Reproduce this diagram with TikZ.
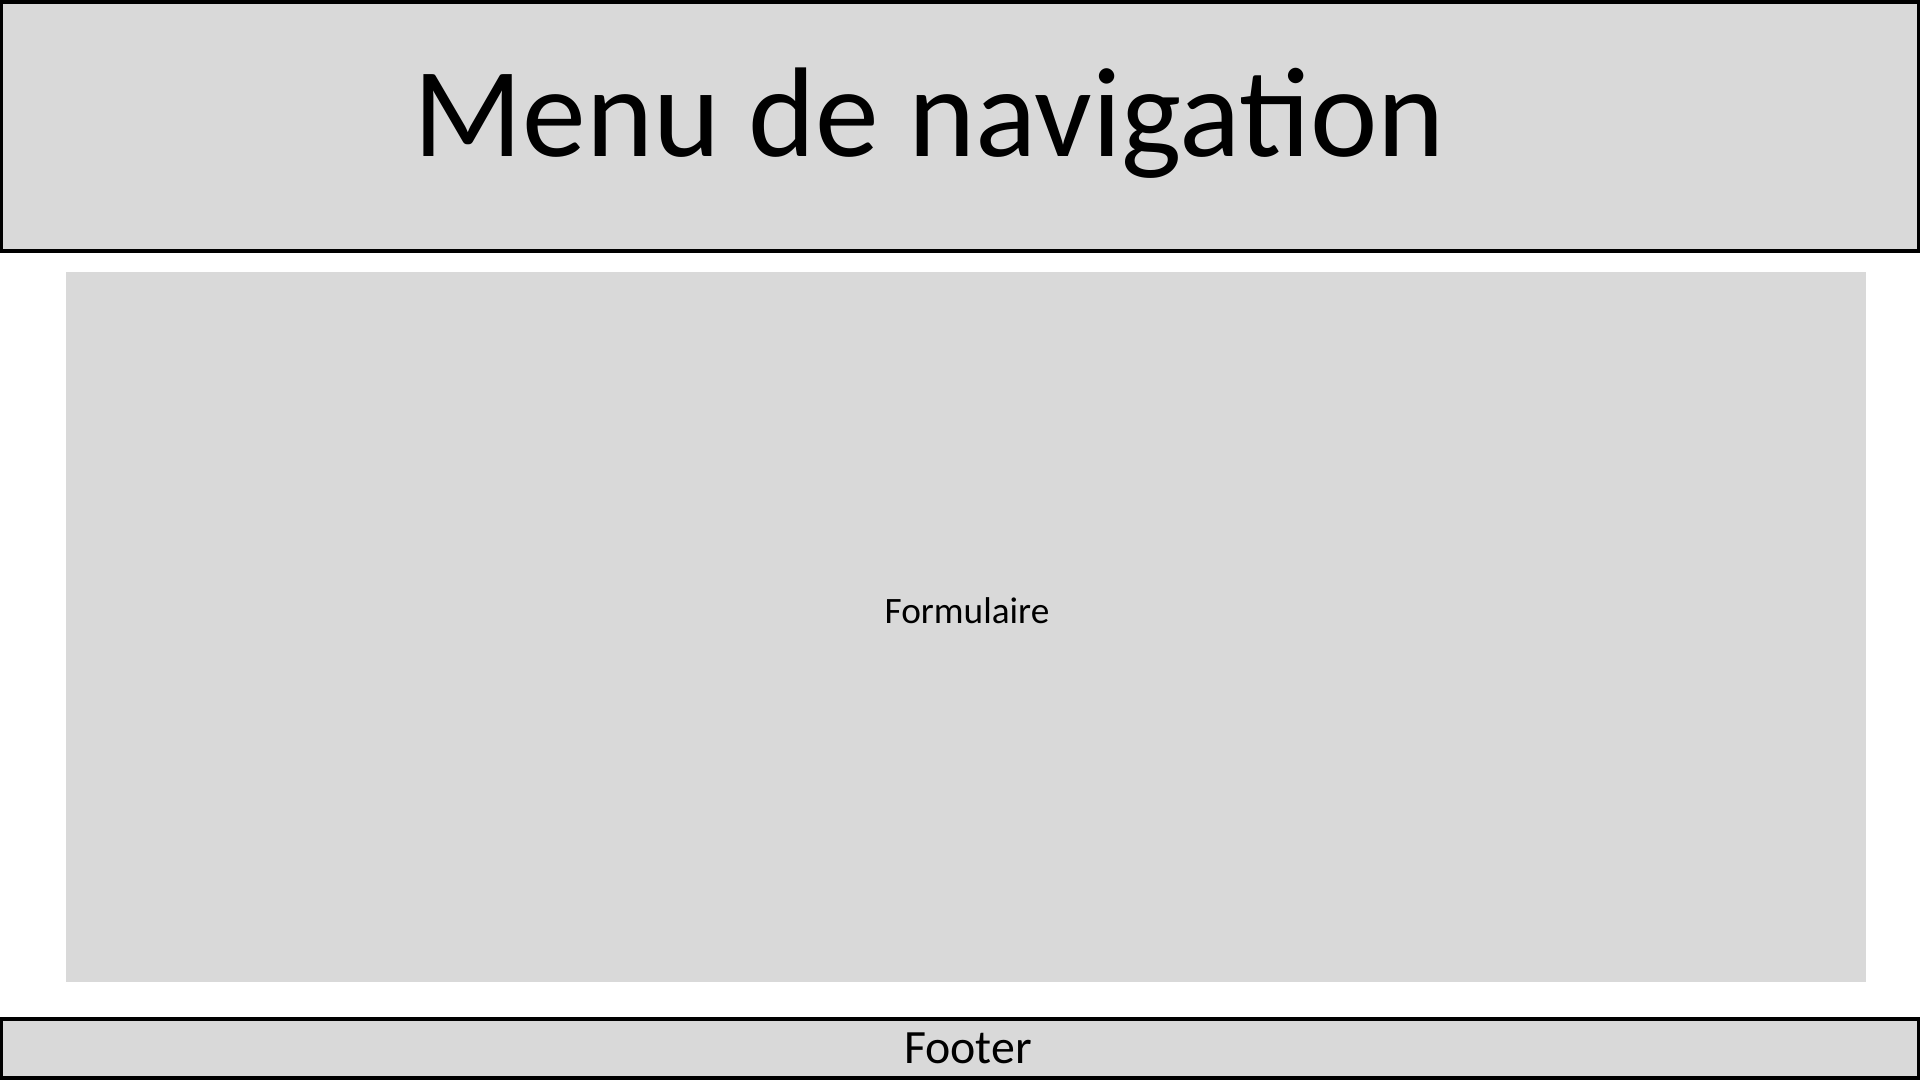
\documentclass[tikz,border=0pt]{standalone}
\usepackage{fontspec}
\setmainfont{Carlito}
\definecolor{zonegray}{HTML}{D9D9D9}
\begin{document}
\begin{tikzpicture}[x=0.01cm, y=-0.01cm,
			every node/.style = {inner sep=0pt, outer sep=0pt},
			framed/.style = {shape=rectangle, draw=black, line width=0.04cm, fill=zonegray},
			plain/.style = {shape=rectangle, fill=zonegray}]
			
			\useasboundingbox (0,0) rectangle (1920,1080);
			
			% bandeau du haut
			\node[framed, minimum width=19.16cm, minimum height=2.49cm] (menu) at (960,126.5) {};
			\node[anchor=base, font=\fontsize{36.3}{42}\selectfont] (menutxt) at (929,157) {Menu de navigation};
			
			% zone centrale
			\node[plain, minimum width=17.98cm, minimum height=7.10cm] (form) at (966,627) {};
			\node[anchor=base, font=\fontsize{10.6}{13}\selectfont] (formtxt) at (967,624) {Formulaire};
			
			% pied de page
			\node[framed, minimum width=19.16cm, minimum height=0.593cm] (footer) at (960,1048.35) {};
			\node[anchor=base, font=\fontsize{13.6}{16}\selectfont] (footertxt) at (968,1064) {Footer};
			\end{tikzpicture}
\end{document}
